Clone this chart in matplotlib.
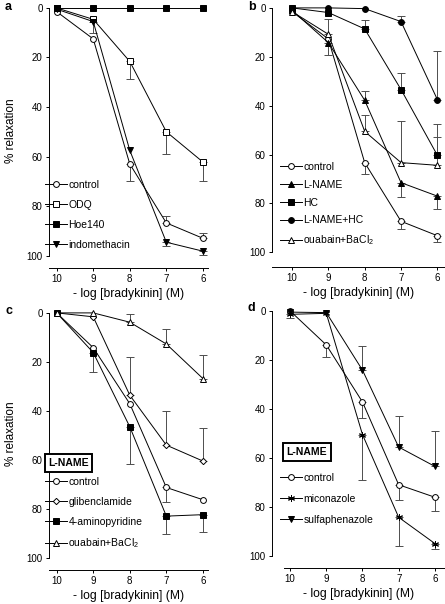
import matplotlib
matplotlib.use("Agg")
import matplotlib.pyplot as plt

plt.rcParams['font.family'] = ['Liberation Sans', 'DejaVu Sans']
plt.rcParams['mathtext.default'] = 'regular'
plt.rcParams['font.size'] = 7.5

W, H = 445, 604

# -log [bradykinin] (M)
doses = [10, 9, 8, 7, 6]
x_ticks = [10, 9, 8, 7, 6]
y_ticks = [0, 20, 40, 60, 80, 100]

# signed error: + extends to larger % relaxation, - to smaller, 0 = none drawn
# panel a
a_control = [1.5, 12.5, 63, 86.8, 93]
a_control_err = [0, 0, 7, -2.7, -2]
a_odq = [0, 4.6, 21.6, 50, 62.2]
a_odq_err = [0, 0, 7, 9, 7.8]
a_hoe = [0, 0, 0, 0, 0]
a_hoe_err = [0, 0, 0, 0, 0]
a_indo = [0.5, 5.5, 57.5, 94.6, 98.2]
a_indo_err = [0, 4.5, 0, 1.5, 1.5]

# panel b
b_control = [1.5, 12.7, 63.3, 87.3, 93.2]
b_control_err = [0, 0, 4.8, 3.3, 2.7]
b_lname = [1, 14.2, 37.8, 71.5, 77]
b_lname_err = [0, 5, -3.9, 5.7, 5.4]
b_hc = [0, 1.9, 8.6, 33.4, 60.3]
b_hc_err = [0, 0, -3.7, -6.6, -12.7]
b_lnamehc = [0, 0, 0.3, 5.6, 37.5]
b_lnamehc_err = [0, 0, 0, -2.3, -20]
b_ouab = [1.5, 10.8, 50.5, 63.3, 64.4]
b_ouab_err = [0, -6.2, -6.6, -17, -11.6]

# panel c (L-NAME)
c_control = [0, 14.2, 37.1, 71.3, 76.3]
c_control_err = [0, 0, 0, 6, 0]
c_glib = [0, 1.6, 33.6, 54, 60.5]
c_glib_err = [0, 0, -15.6, -13.9, -13.6]
c_4ap = [0, 16.2, 46.5, 83, 82.4]
c_4ap_err = [0, 8, 15.4, 7.3, 7]
c_ouab = [0, 0, 3.8, 12.7, 26.8]
c_ouab_err = [0, 0, -3.3, -6.2, -9.5]

# panel d (L-NAME)
d_control = [0, 13.9, 37.2, 71, 76.1]
d_control_err = [0, 5.1, 6.4, 6.2, 5.7]
d_mico = [1.4, 1, 50.5, 84.3, 95]
d_mico_err = [1.6, 0, 18.5, 11.6, 2.3]
d_sulfa = [0.5, 0.7, 24.2, 55.6, 63.5]
d_sulfa_err = [0, 0, -10, -12.7, -14.3]

asterisk = (6, 2, 0)
styles = {
    'control': ('o', 'white'),
    'ODQ': ('s', 'white'),
    'Hoe140': ('s', 'black'),
    'indomethacin': ('v', 'black'),
    'L-NAME': ('^', 'black'),
    'HC': ('s', 'black'),
    'L-NAME+HC': ('o', 'black'),
    'ouabain+BaCl$_2$': ('^', 'white'),
    'glibenclamide': ('D', 'white'),
    '4-aminopyridine': ('s', 'black'),
    'miconazole': (asterisk, 'black'),
    'sulfaphenazole': ('v', 'black'),
}

fig = plt.figure(figsize=(W / 100, H / 100), dpi=100)


def make_axes(left, right, top, bottom):
    return fig.add_axes([left / W, 1 - bottom / H, (right - left) / W, (bottom - top) / H])


def draw_series(ax, label, vals, err):
    marker, face = styles[label]
    ms = 3.2 if marker == 'D' else 4.2
    if marker == asterisk:
        ms = 5
    idx = [i for i, e in enumerate(err) if e != 0]
    if idx:
        lo = [max(-err[i], 0) for i in idx]
        hi = [max(err[i], 0) for i in idx]
        ax.errorbar([doses[i] for i in idx], [vals[i] for i in idx], yerr=[lo, hi],
                    fmt='none', ecolor='0.3', elinewidth=0.7, capsize=2.6, capthick=0.7, zorder=1)
    ax.plot(doses, vals, color='black', lw=0.7, marker=marker, markersize=ms,
            markerfacecolor=face, markeredgecolor='black', markeredgewidth=0.7,
            label=label, zorder=3)


def style_axes(ax, xlim, ylim, xbounds=None, ylabel=True):
    ax.set_xlim(*xlim)
    ax.set_ylim(*ylim)
    ax.set_xticks(x_ticks)
    ax.set_yticks(y_ticks)
    ax.spines['top'].set_visible(False)
    ax.spines['right'].set_visible(False)
    ax.spines['left'].set_bounds(0, 100)
    ax.spines['bottom'].set_bounds(*(xbounds if xbounds else xlim))
    for s in ('left', 'bottom'):
        ax.spines[s].set_linewidth(0.7)
    ax.tick_params(direction='out', length=2.5, width=0.7, pad=2, labelsize=7)
    ax.set_xlabel('- log [bradykinin] (M)', fontsize=8.7, labelpad=3)
    if ylabel:
        ax.set_ylabel('% relaxation', fontsize=8.5)
        ax.yaxis.set_label_coords(-0.2, 0.52)
    ax.patch.set_visible(False)


def add_legend(ax, left, top, spacing):
    ax.legend(loc='upper left', bbox_to_anchor=(left / W, 1 - top / H),
              bbox_transform=fig.transFigure, frameon=False, fontsize=7.5,
              handlelength=2.1, handletextpad=0.15, labelspacing=spacing,
              borderpad=0, borderaxespad=0)


# panel a
ax = make_axes(49, 208, 3, 268)
draw_series(ax, 'control', a_control, a_control_err)
draw_series(ax, 'ODQ', a_odq, a_odq_err)
draw_series(ax, 'Hoe140', a_hoe, a_hoe_err)
draw_series(ax, 'indomethacin', a_indo, a_indo_err)
style_axes(ax, (10.21, 5.86), (105, -2))
add_legend(ax, 45, 180, 0.95)
fig.text(5 / W, 1 - 7 / H, 'a', fontsize=9, fontweight='bold', va='center')

# panel b
ax = make_axes(272, 445, 3, 267)
draw_series(ax, 'control', b_control, b_control_err)
draw_series(ax, 'L-NAME', b_lname, b_lname_err)
draw_series(ax, 'HC', b_hc, b_hc_err)
draw_series(ax, 'L-NAME+HC', b_lnamehc, b_lnamehc_err)
draw_series(ax, 'ouabain+BaCl$_2$', b_ouab, b_ouab_err)
style_axes(ax, (10.55, 5.79), (106, -2), ylabel=False)
add_legend(ax, 280, 162, 0.75)
fig.text(248 / W, 1 - 7 / H, 'b', fontsize=9, fontweight='bold', va='center')

# panel c
ax = make_axes(49, 208, 308, 570)
draw_series(ax, 'control', c_control, c_control_err)
draw_series(ax, 'glibenclamide', c_glib, c_glib_err)
draw_series(ax, '4-aminopyridine', c_4ap, c_4ap_err)
draw_series(ax, 'ouabain+BaCl$_2$', c_ouab, c_ouab_err)
style_axes(ax, (10.21, 5.86), (105, -2))
add_legend(ax, 45, 477, 0.95)
fig.text(68.5 / W, 1 - 463 / H, 'L-NAME', fontsize=7.5, fontweight='bold', ha='center', va='center',
         bbox=dict(boxstyle='square,pad=0.35', fc='white', ec='black', lw=1.4))
fig.text(5 / W, 1 - 311 / H, 'c', fontsize=9, fontweight='bold', va='center')

# panel d
ax = make_axes(272, 445, 306, 568)
draw_series(ax, 'control', d_control, d_control_err)
draw_series(ax, 'miconazole', d_mico, d_mico_err)
draw_series(ax, 'sulfaphenazole', d_sulfa, d_sulfa_err)
style_axes(ax, (10.5, 5.72), (105, -2), xbounds=(10.17, 5.72), ylabel=False)
add_legend(ax, 280, 473, 1.05)
fig.text(307 / W, 1 - 452 / H, 'L-NAME', fontsize=7.5, fontweight='bold', ha='center', va='center',
         bbox=dict(boxstyle='square,pad=0.35', fc='white', ec='black', lw=1.4))
fig.text(247 / W, 1 - 308 / H, 'd', fontsize=9, fontweight='bold', va='center')

fig.savefig('out.png', dpi=100)
